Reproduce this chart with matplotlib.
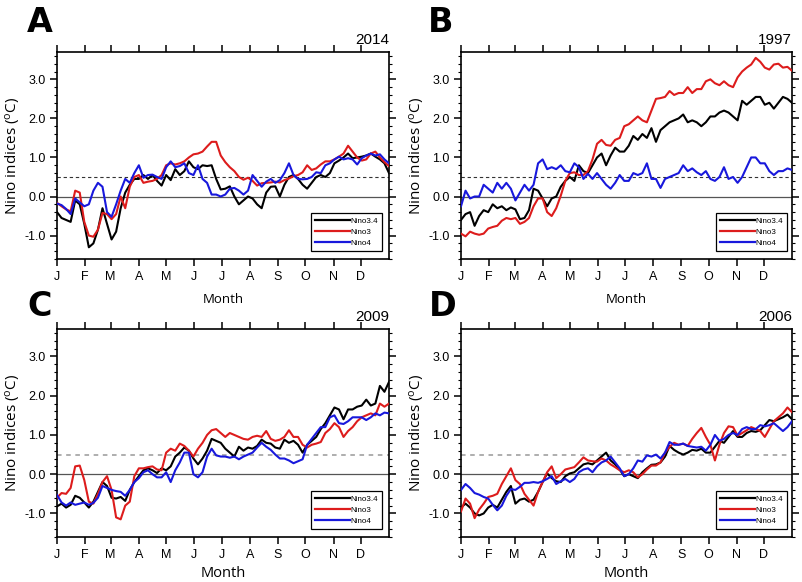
import matplotlib
matplotlib.use('Agg')
import matplotlib.pyplot as plt
from matplotlib.ticker import FixedLocator, MultipleLocator, FormatStrFormatter

plt.rcParams['axes.unicode_minus'] = False
plt.rcParams['font.family'] = ['Liberation Sans', 'DejaVu Sans']

# ---------------- data (5-day sampling) ----------------
days = [0, 5, 10, 15, 20, 25, 30, 35, 40, 45, 50, 55, 60, 65, 70, 75, 80, 85, 90, 95,
        100, 105, 110, 115, 120, 125, 130, 135, 140, 145, 150, 155, 160, 165, 170, 175,
        180, 185, 190, 195, 200, 205, 210, 215, 220, 225, 230, 235, 240, 245, 250, 255,
        260, 265, 270, 275, 280, 285, 290, 295, 300, 305, 310, 315, 320, 325, 330, 335,
        340, 345, 350, 355, 360, 365]

month_starts = [0, 31, 59, 90, 120, 151, 181, 212, 243, 273, 304, 334]
month_labels = ['J', 'F', 'M', 'A', 'M', 'J', 'J', 'A', 'S', 'O', 'N', 'D']
series_names = ['Nino3.4', 'Nino3', 'Nino4']
panel_letters = ['A', 'B', 'C', 'D']
panel_years = ['2014', '1997', '2009', '2006']

# Panel A (2014)
A_nino34 = [-0.40, -0.55, -0.60, -0.65, -0.10, -0.20, -0.70, -1.30, -1.20, -0.85,
            -0.30, -0.70, -1.10, -0.90, -0.30, 0.10, 0.30, 0.45, 0.45, 0.55,
            0.45, 0.55, 0.40, 0.28, 0.55, 0.42, 0.70, 0.55, 0.65, 0.90,
            0.75, 0.70, 0.80, 0.78, 0.80, 0.45, 0.18, 0.20, 0.26, 0.00,
            -0.20, -0.10, 0.00, -0.05, -0.20, -0.30, 0.10, 0.25, 0.26, 0.00,
            0.30, 0.50, 0.55, 0.45, 0.30, 0.20, 0.35, 0.50, 0.55, 0.50,
            0.60, 0.85, 0.92, 1.00, 1.10, 0.98, 1.00, 1.02, 1.05, 1.10,
            1.02, 0.95, 0.85, 0.60]
A_nino3 = [-0.16, -0.25, -0.33, -0.38, 0.15, 0.10, -0.65, -1.00, -1.03, -0.85,
           -0.42, -0.45, -0.58, -0.45, 0.00, -0.30, 0.25, 0.50, 0.55, 0.35,
           0.38, 0.40, 0.45, 0.55, 0.80, 0.85, 0.82, 0.85, 0.90, 1.00,
           1.08, 1.10, 1.15, 1.28, 1.40, 1.40, 1.05, 0.88, 0.75, 0.65,
           0.50, 0.43, 0.48, 0.40, 0.28, 0.34, 0.35, 0.36, 0.38, 0.36,
           0.42, 0.46, 0.52, 0.55, 0.62, 0.80, 0.68, 0.72, 0.82, 0.90,
           0.90, 0.95, 1.02, 1.10, 1.30, 1.15, 1.00, 0.92, 0.95, 1.10,
           1.15, 1.00, 0.88, 0.78]
A_nino4 = [-0.18, -0.22, -0.32, -0.45, -0.05, -0.15, -0.25, -0.20, 0.15, 0.35,
           0.25, -0.40, -0.52, -0.20, 0.15, 0.45, 0.35, 0.60, 0.80, 0.48,
           0.55, 0.56, 0.50, 0.45, 0.75, 0.90, 0.75, 0.78, 0.85, 0.60,
           0.55, 0.80, 0.45, 0.35, 0.05, 0.05, 0.00, 0.05, 0.20, 0.22,
           0.15, 0.05, 0.15, 0.55, 0.40, 0.25, 0.38, 0.45, 0.35, 0.42,
           0.60, 0.85, 0.55, 0.45, 0.44, 0.45, 0.50, 0.62, 0.60, 0.80,
           0.85, 0.95, 1.02, 0.95, 0.98, 0.95, 0.82, 0.98, 1.05, 1.10,
           1.05, 1.08, 0.95, 0.85]

# Panel B (1997)
B_nino34 = [-0.60, -0.45, -0.40, -0.75, -0.50, -0.35, -0.40, -0.20, -0.30, -0.25,
            -0.35, -0.28, -0.33, -0.58, -0.55, -0.35, 0.20, 0.15, -0.05, -0.25,
            -0.05, 0.00, 0.25, 0.40, 0.50, 0.40, 0.80, 0.65, 0.60, 0.80,
            1.00, 1.10, 0.80, 1.05, 1.25, 1.15, 1.15, 1.30, 1.55, 1.45,
            1.60, 1.50, 1.75, 1.40, 1.70, 1.80, 1.90, 1.95, 2.00, 2.10,
            1.90, 1.95, 1.90, 1.80, 1.90, 2.05, 2.05, 2.15, 2.20, 2.15,
            2.05, 1.95, 2.45, 2.35, 2.45, 2.55, 2.55, 2.35, 2.40, 2.25,
            2.40, 2.55, 2.50, 2.40]
B_nino3 = [-0.95, -1.02, -0.90, -0.95, -0.98, -0.95, -0.82, -0.78, -0.75, -0.62,
           -0.55, -0.58, -0.55, -0.70, -0.65, -0.55, -0.25, -0.05, -0.05, -0.40,
           -0.50, -0.30, 0.02, 0.40, 0.60, 0.62, 0.55, 0.55, 0.65, 0.95,
           1.35, 1.45, 1.32, 1.30, 1.45, 1.50, 1.80, 1.85, 1.95, 2.05,
           1.95, 1.90, 2.20, 2.50, 2.52, 2.55, 2.70, 2.60, 2.65, 2.65,
           2.80, 2.65, 2.75, 2.75, 2.95, 3.00, 2.90, 2.85, 2.95, 2.85,
           2.80, 3.05, 3.20, 3.30, 3.38, 3.55, 3.45, 3.30, 3.25, 3.38,
           3.40, 3.30, 3.32, 3.22]
B_nino4 = [-0.25, 0.15, -0.05, 0.00, 0.00, 0.30, 0.20, 0.10, 0.35, 0.20,
           0.35, 0.20, -0.10, 0.10, 0.30, 0.15, 0.30, 0.85, 0.95, 0.70,
           0.75, 0.70, 0.80, 0.65, 0.62, 0.85, 0.75, 0.45, 0.58, 0.45,
           0.60, 0.45, 0.30, 0.20, 0.35, 0.55, 0.40, 0.40, 0.60, 0.55,
           0.60, 0.85, 0.45, 0.45, 0.22, 0.45, 0.50, 0.55, 0.60, 0.80,
           0.65, 0.72, 0.62, 0.55, 0.65, 0.45, 0.40, 0.50, 0.75, 0.45,
           0.50, 0.35, 0.50, 0.75, 1.00, 1.00, 0.85, 0.85, 0.65, 0.55,
           0.65, 0.65, 0.72, 0.68]

# Panel C (2009)
C_nino34 = [-0.82, -0.75, -0.85, -0.78, -0.55, -0.60, -0.72, -0.85, -0.70, -0.45,
            -0.20, -0.30, -0.60, -0.62, -0.58, -0.68, -0.40, -0.20, -0.05, 0.10,
            0.15, 0.10, 0.03, 0.15, 0.10, 0.20, 0.45, 0.55, 0.68, 0.60,
            0.40, 0.25, 0.40, 0.60, 0.90, 0.85, 0.80, 0.65, 0.55, 0.45,
            0.70, 0.60, 0.68, 0.65, 0.72, 0.88, 0.80, 0.78, 0.68, 0.65,
            0.88, 0.80, 0.85, 0.75, 0.55, 0.75, 0.85, 0.95, 1.15, 1.30,
            1.50, 1.70, 1.65, 1.40, 1.65, 1.65, 1.72, 1.75, 1.90, 1.75,
            1.80, 2.25, 2.10, 2.35]
C_nino3 = [-0.60, -0.48, -0.50, -0.35, 0.20, 0.22, -0.15, -0.70, -0.75, -0.50,
           -0.20, -0.05, -0.40, -1.10, -1.15, -0.80, -0.70, -0.05, 0.15, 0.15,
           0.18, 0.20, 0.12, 0.10, 0.55, 0.65, 0.60, 0.78, 0.72, 0.60,
           0.45, 0.65, 0.80, 1.00, 1.12, 1.15, 1.05, 0.95, 1.05, 1.00,
           0.95, 0.90, 0.88, 0.95, 0.98, 0.95, 1.10, 0.90, 0.85, 0.88,
           0.95, 1.12, 0.95, 0.95, 0.75, 0.68, 0.75, 0.78, 0.82, 1.05,
           1.15, 1.30, 1.20, 0.95, 1.10, 1.20, 1.35, 1.45, 1.50, 1.55,
           1.50, 1.80, 1.72, 1.80]
C_nino4 = [-0.53, -0.72, -0.80, -0.72, -0.78, -0.75, -0.72, -0.78, -0.73, -0.60,
           -0.30, -0.35, -0.40, -0.43, -0.45, -0.55, -0.40, -0.20, -0.10, 0.05,
           0.10, 0.00, -0.08, -0.08, 0.05, -0.20, 0.10, 0.30, 0.55, 0.55,
           0.00, -0.08, 0.05, 0.45, 0.65, 0.48, 0.45, 0.45, 0.42, 0.45,
           0.38, 0.45, 0.50, 0.55, 0.68, 0.80, 0.70, 0.62, 0.50, 0.40,
           0.40, 0.35, 0.28, 0.33, 0.38, 0.75, 0.90, 1.05, 1.20, 1.20,
           1.45, 1.50, 1.30, 1.28, 1.35, 1.45, 1.45, 1.45, 1.38, 1.45,
           1.55, 1.50, 1.57, 1.55]

# Panel D (2006)
D_nino34 = [-0.85, -0.75, -0.85, -1.00, -1.05, -1.00, -0.85, -0.78, -0.85, -0.65,
            -0.45, -0.30, -0.75, -0.65, -0.62, -0.70, -0.65, -0.45, -0.20, 0.02,
            -0.10, -0.18, -0.20, -0.05, 0.02, 0.05, 0.15, 0.25, 0.28, 0.25,
            0.35, 0.45, 0.55, 0.35, 0.25, 0.12, -0.05, 0.00, -0.05, -0.10,
            0.05, 0.15, 0.24, 0.25, 0.30, 0.45, 0.72, 0.62, 0.55, 0.50,
            0.55, 0.62, 0.60, 0.65, 0.55, 0.55, 0.70, 0.85, 0.80, 0.95,
            1.10, 0.95, 0.95, 1.05, 1.10, 1.08, 1.12, 1.25, 1.38, 1.35,
            1.40, 1.45, 1.52, 1.40]
D_nino3 = [-0.95, -0.62, -0.75, -1.12, -0.90, -0.75, -0.58, -0.55, -0.50, -0.25,
           -0.05, 0.15, -0.15, -0.25, -0.50, -0.65, -0.80, -0.45, -0.20, 0.05,
           0.20, -0.10, 0.00, 0.12, 0.15, 0.18, 0.30, 0.43, 0.35, 0.33,
           0.32, 0.40, 0.35, 0.25, 0.18, 0.10, 0.05, 0.10, 0.05, -0.08,
           0.00, 0.12, 0.22, 0.22, 0.30, 0.55, 0.70, 0.80, 0.75, 0.78,
           0.72, 0.90, 1.05, 1.18, 0.95, 0.75, 0.35, 0.75, 1.05, 1.22,
           1.20, 0.98, 1.05, 1.12, 1.20, 1.15, 1.10, 0.95, 1.15, 1.35,
           1.45, 1.55, 1.70, 1.58]
D_nino4 = [-0.40, -0.25, -0.35, -0.48, -0.52, -0.58, -0.62, -0.78, -0.92, -0.80,
           -0.55, -0.38, -0.40, -0.32, -0.22, -0.22, -0.20, -0.22, -0.18, -0.12,
           -0.05, -0.25, -0.18, -0.12, -0.20, -0.12, 0.05, 0.12, 0.15, 0.05,
           0.20, 0.30, 0.35, 0.45, 0.30, 0.15, -0.05, 0.00, 0.15, 0.35,
           0.32, 0.48, 0.45, 0.50, 0.40, 0.55, 0.82, 0.75, 0.75, 0.78,
           0.72, 0.70, 0.68, 0.70, 0.60, 0.75, 1.00, 0.85, 0.90, 1.00,
           1.05, 1.00, 1.15, 1.20, 1.15, 1.15, 1.25, 1.22, 1.25, 1.30,
           1.20, 1.10, 1.20, 1.35]

panel_series = [
    [A_nino34, A_nino3, A_nino4],
    [B_nino34, B_nino3, B_nino4],
    [C_nino34, C_nino3, C_nino4],
    [D_nino34, D_nino3, D_nino4],
]

# ---------------- styling / layout ----------------
colors = ['black', '#dd1c1c', '#1818dc']
W, H = 802, 582
fig = plt.figure(figsize=(W / 100, H / 100), dpi=100)

# axes boxes in pixels: left, top, right, bottom
boxes = [(57, 52, 389, 259), (461, 52, 792, 259),
         (57, 329, 389, 537), (461, 329, 792, 537)]
letter_pos = [(27, 6), (428, 6), (27, 290), (429, 290)]
month_label_size = [9.5, 9.5, 10.5, 10.5]
month_label_pad = [7, 7, 3.5, 3.5]
dash_style = [('#333333', 0.8, (3, 2.5)), ('#333333', 0.8, (3, 2.5)),
              ('#999999', 1.1, (3, 3)), ('#999999', 1.1, (3, 3))]

for i in range(4):
    l, t, r, b = boxes[i]
    ax = fig.add_axes([l / W, 1 - b / H, (r - l) / W, (b - t) / H])
    ax.set_xlim(0, 365)
    ax.set_ylim(-1.6, 3.7)

    ax.axhline(0.0, color='#555555', lw=0.9, zorder=1)
    dc, dlw, dd = dash_style[i]
    ax.axhline(0.5, color=dc, lw=dlw, dashes=dd, zorder=1)

    handles = []
    for k in range(3):
        h, = ax.plot(days, panel_series[i][k], color=colors[k], lw=1.5,
                     zorder=3 + k, label=series_names[k])
        handles.append(h)

    ax.xaxis.set_major_locator(FixedLocator(month_starts))
    ax.set_xticklabels(month_labels)
    ax.yaxis.set_major_locator(MultipleLocator(1.0))
    ax.yaxis.set_minor_locator(MultipleLocator(0.2))
    ax.yaxis.set_major_formatter(FormatStrFormatter('%.1f'))
    ax.tick_params(axis='both', which='major', direction='out', length=5,
                   width=1.1, labelsize=9, top=True, right=True, pad=3)
    ax.tick_params(axis='y', which='minor', direction='out', length=2.5,
                   width=0.8, right=True)
    ax.tick_params(axis='x', which='major', pad=4)
    for sp in ax.spines.values():
        sp.set_linewidth(1.2)

    ax.set_xlabel('Month', family='Open Sans', fontsize=month_label_size[i],
                  labelpad=month_label_pad[i])
    ax.set_ylabel(r'Nino indices ($\mathregular{^{o}}$C)', family='Open Sans',
                  fontsize=11, labelpad=1)

    ax.text(1.0, 1.025, panel_years[i], transform=ax.transAxes,
            ha='right', va='bottom', fontsize=11)

    leg_right = (382 - l) / (r - l) if i % 2 == 0 else (787 - l) / (r - l)
    leg = ax.legend(handles=handles, loc='lower right',
                    bbox_to_anchor=(leg_right, 0.04), borderaxespad=0,
                    fontsize=5.8, handlelength=4.4, handletextpad=0.1,
                    labelspacing=0.45, borderpad=0.45, fancybox=False,
                    framealpha=1, edgecolor='black')
    leg.get_frame().set_linewidth(0.9)
    for lh in leg.get_lines():
        lh.set_linewidth(1.6)

    lx, ly = letter_pos[i]
    fig.text(lx / W, 1 - ly / H, panel_letters[i], family='DejaVu Sans',
             fontweight='bold', fontsize=24, ha='left', va='top')

fig.savefig('out.png', dpi=100)
